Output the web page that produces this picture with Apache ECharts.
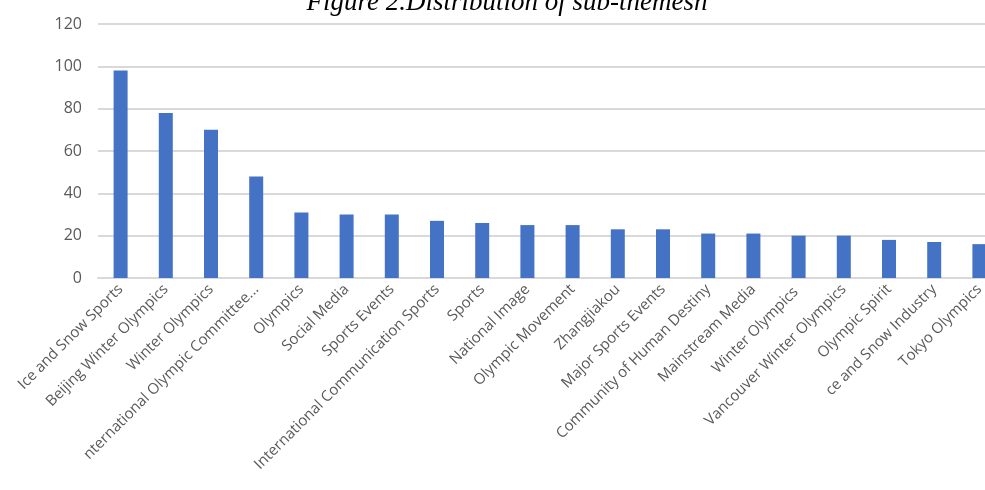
<!DOCTYPE html>
<html><head><meta charset="utf-8">
<script src="https://cdn.jsdelivr.net/npm/echarts@6/dist/echarts.min.js"></script>
<style>html,body{margin:0;padding:0;background:#fff}#c{width:985px;height:490px}</style>
</head><body><div id="c"></div>
<script>
const titleText = "Figure 2.Distribution of sub-themesh";
const categories = ["Ice and Snow Sports","Beijing Winter Olympics","Winter Olympics","nternational Olympic Committee...","Olympics","Social Media","Sports Events","International Communication Sports","Sports","National Image","Olympic Movement","Zhangjiakou","Major Sports Events","Community of Human Destiny","Mainstream Media","Winter Olympics ","Vancouver Winter Olympics","Olympic Spirit","ce and Snow Industry","Tokyo Olympics"];
const values = [98,78,70,48,31,30,30,27,26,25,25,23,23,21,21,20,20,18,17,16];
const yTicks = {min:0,max:120,interval:20};

const chart = echarts.init(document.getElementById('c'));
chart.setOption({
  animation:false,
  title:{text:titleText,left:502,textAlign:'center',top:-16,
    textStyle:{fontFamily:'Liberation Serif',fontStyle:'italic',fontWeight:'normal',fontSize:27,color:'#000'}},
  grid:{left:98,width:904,top:24,height:254,containLabel:false,outerBoundsMode:'none'},
  xAxis:{type:'category',data:categories,
    axisLine:{lineStyle:{color:'#d9d9d9',width:2}},
    axisTick:{show:false},
    axisLabel:{rotate:45,interval:0,margin:9,fontFamily:'Open Sans',fontSize:15,color:'#595959'}},
  yAxis:{type:'value',min:yTicks.min,max:yTicks.max,interval:yTicks.interval,
    axisLine:{show:false},axisTick:{show:false},
    splitLine:{lineStyle:{color:'#d9d9d9',width:2}},
    axisLabel:{margin:16,fontFamily:'Open Sans',fontSize:16,color:'#595959'}},
  series:[{type:'bar',data:values,barWidth:14,itemStyle:{color:'#4472C4'}}]
});
</script></body></html>
